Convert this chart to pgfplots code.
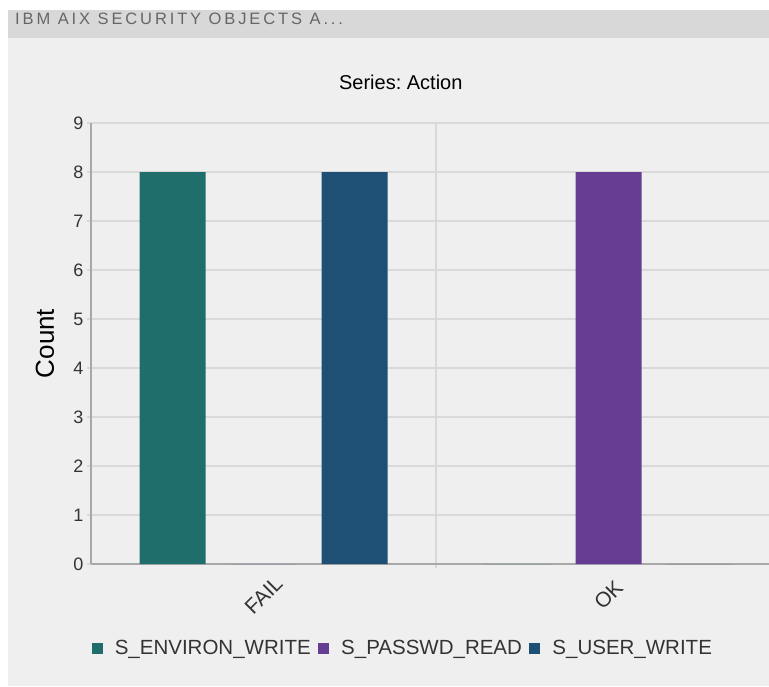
\documentclass[border=0pt]{standalone}
\usepackage{fontspec}
\setmainfont{Liberation Sans}
\usepackage{pgfplots}
\pgfplotsset{compat=1.18}
\definecolor{bg}{HTML}{EFEFEF}
\definecolor{hdr}{HTML}{D8D8D8}
\definecolor{hdrtext}{HTML}{666666}
\definecolor{gridc}{HTML}{D9D9D9}
\definecolor{axisc}{HTML}{A8A8A8}
\definecolor{txt}{HTML}{333333}
\definecolor{cenv}{HTML}{1F6E6C}
\definecolor{cpwd}{HTML}{653E94}
\definecolor{cusr}{HTML}{1E4F75}
\frenchspacing
\begin{document}
\begin{tikzpicture}
\fill[white] (0,0) rectangle (769pt,-687pt);
\fill[bg] (8pt,-10pt) rectangle (769pt,-686pt);
\fill[hdr] (8pt,-10pt) rectangle (769pt,-38pt);
\node[anchor=west, text=hdrtext, inner sep=0pt, font=\fontsize{16.5}{18}\selectfont\addfontfeature{LetterSpace=17.5}] at (15pt,-19pt) {IBM AIX SECURITY OBJECTS A...};
\begin{scope}
\clip (0,0) rectangle (769pt,-687pt);
\begin{axis}[
  at={(91pt,-564pt)}, anchor=south west, scale only axis,
  width=690pt, height=441pt,
  xmin=-0.5, xmax=1.5, ymin=0, ymax=9,
  axis x line*=bottom, axis y line*=left,
  axis line style={axisc, line width=1.5pt},
  ybar, bar width=66pt,
  legend image code/.code={\fill[#1] (0pt,-5.5pt) rectangle (11pt,5.5pt);},
  xtick={0,1}, xticklabels={FAIL,OK},
  minor xtick={0.5},
  ytick={0,1,...,9},
  ymajorgrids, xminorgrids,
  grid style={gridc, line width=1.3pt},
  minor grid style={gridc, line width=1.3pt},
  tick align=outside,
  major tick length=4pt, minor tick length=4pt,
  major x tick style={draw=none},
  minor x tick style={gridc, line width=1.3pt},
  y tick style={gridc, line width=1.3pt},
  /pgf/number format/assume math mode=true,
  ticklabel style={font=\fontsize{18}{20}\selectfont, text=txt},
  xticklabel style={yshift=-27pt, rotate=45, anchor=center, font=\fontsize{21}{23}\selectfont},
  ylabel={Count},
  every axis y label/.style={at={(axis description cs:-0.0667,0.5)}, rotate=90, anchor=center, font=\fontsize{26}{28}\selectfont, text=black},
  title={Series: Action},
  title style={at={(axis description cs:0.449,1.079)}, anchor=center, font=\fontsize{20}{22}\selectfont, text=black},
  legend columns=3,
  legend style={at={(axis description cs:0.452,-0.1905)}, anchor=center, draw=none, fill=none,
    font=\fontsize{20.5}{22}\selectfont, text=txt,
    /tikz/every odd column/.append style={column sep=10pt},
    /tikz/every even column/.append style={column sep=5.5pt}},
]
\addplot[fill=cenv, draw=none, bar shift=-91pt] coordinates {(0,8) (1,0)};
\addplot[fill=cpwd, draw=none, bar shift=0pt] coordinates {(0,0) (1,8)};
\addplot[fill=cusr, draw=none, bar shift=91pt] coordinates {(0,8) (1,0)};
\legend{S\_ENVIRON\_WRITE, S\_PASSWD\_READ, S\_USER\_WRITE}
\end{axis}
\end{scope}
\pgfresetboundingbox
\useasboundingbox (0,0) rectangle (769pt,-687pt);
\end{tikzpicture}
\end{document}
